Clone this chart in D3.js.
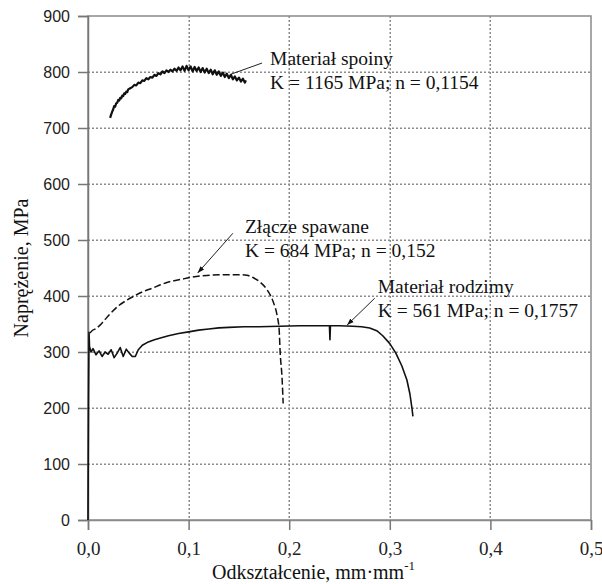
<!DOCTYPE html>
<html>
<head>
<meta charset="utf-8">
<script src="https://cdn.jsdelivr.net/npm/d3@7"></script>
<style>
  body { margin: 0; background: #fff; }
</style>
</head>
<body>
<div id="grafico"></div>
<script>
// dane: [odksztalcenie, naprezenie MPa]
const spoiny = [
  [0.022, 718], [0.023, 724], [0.024, 729], [0.025, 733], [0.026, 739], [0.027, 738],
  [0.028, 744], [0.029, 745], [0.030, 750], [0.031, 749], [0.032, 754], [0.033, 753],
  [0.034, 758], [0.035, 757], [0.036, 762], [0.037, 761], [0.038, 765], [0.039, 764],
  [0.040, 769], [0.042, 771], [0.044, 773], [0.046, 777], [0.048, 776], [0.050, 781],
  [0.052, 780], [0.054, 785], [0.056, 784], [0.058, 789], [0.060, 787], [0.062, 791],
  [0.064, 790], [0.066, 795], [0.068, 793], [0.070, 798], [0.072, 796], [0.074, 801],
  [0.076, 798], [0.078, 803], [0.080, 800], [0.082, 804], [0.084, 801], [0.086, 806],
  [0.088, 802], [0.090, 808], [0.092, 803], [0.094, 810], [0.096, 802], [0.098, 811],
  [0.100, 803], [0.102, 810], [0.104, 801], [0.106, 809], [0.108, 802], [0.110, 808],
  [0.112, 800], [0.114, 807], [0.116, 799], [0.118, 806], [0.120, 798], [0.122, 804],
  [0.124, 796], [0.126, 803], [0.128, 795], [0.130, 801], [0.132, 793], [0.134, 799],
  [0.136, 791], [0.138, 797], [0.140, 789], [0.142, 795], [0.144, 787], [0.146, 792],
  [0.148, 785], [0.150, 790], [0.152, 783], [0.154, 788], [0.156, 781], [0.157, 785]
];

const zlacze = [
  [0.002, 334], [0.004, 338], [0.008, 342], [0.012, 348], [0.016, 356], [0.022, 368],
  [0.030, 382], [0.039, 393], [0.047, 401], [0.055, 408], [0.064, 414], [0.072, 420],
  [0.080, 425], [0.088, 428], [0.096, 431], [0.104, 434], [0.112, 436], [0.121, 437],
  [0.130, 438], [0.140, 438], [0.150, 438], [0.158, 437], [0.164, 433], [0.171, 425],
  [0.178, 411], [0.184, 390], [0.188, 365], [0.190, 340], [0.191, 300], [0.193, 250],
  [0.194, 208]
];

const rodzimy = [
  [0.000, 0], [0.0005, 200], [0.001, 335], [0.0015, 310], [0.003, 300], [0.005, 306],
  [0.008, 295], [0.011, 302], [0.014, 292], [0.017, 300], [0.020, 296], [0.023, 304],
  [0.026, 290], [0.029, 298], [0.032, 308], [0.035, 292], [0.038, 305], [0.041, 298],
  [0.044, 292], [0.047, 292], [0.050, 304], [0.054, 312], [0.060, 318], [0.066, 322],
  [0.072, 325], [0.080, 329], [0.090, 333], [0.100, 336], [0.110, 339], [0.120, 341],
  [0.130, 343], [0.140, 344], [0.155, 345], [0.170, 345], [0.190, 346], [0.210, 347],
  [0.230, 347], [0.240, 347], [0.2405, 322], [0.241, 347], [0.250, 347], [0.263, 346],
  [0.272, 345], [0.280, 343], [0.287, 338], [0.293, 329], [0.300, 315], [0.306, 298],
  [0.312, 275], [0.317, 250], [0.320, 225], [0.322, 200], [0.323, 185]
];

const xTicks = [0, 0.1, 0.2, 0.3, 0.4, 0.5];
const yTicks = [0, 100, 200, 300, 400, 500, 600, 700, 800, 900];

const opisy = [
  { linie: ["Materiał spoiny", "K = 1165 MPa; n = 0,1154"], tekst: [0.181, 812], od: [0.142, 796], do: [0.173, 816], grot: false },
  { linie: ["Złącze spawane", "K = 684 MPa; n = 0,152"], tekst: [0.156, 512], od: [0.109, 441], do: [0.144, 512], grot: true },
  { linie: ["Materiał rodzimy", "K = 561 MPa; n = 0,1757"], tekst: [0.288, 406], od: [0.2575, 348], do: [0.285, 396], grot: true }
];

const margin = { top: 16, left: 88, bottom: 64, right: 11 };
const width = 602 - margin.left - margin.right;
const height = 584 - margin.top - margin.bottom;

const root = d3.select("#grafico")
               .append("svg")
               .attr("width", 602)
               .attr("height", 584);

const defs = root.append("defs");

defs.append("marker")
    .attr("id", "grot")
    .attr("viewBox", "0 0 10 10")
    .attr("refX", 10)
    .attr("refY", 5)
    .attr("markerWidth", 7)
    .attr("markerHeight", 7)
    .attr("orient", "auto-start-reverse")
    .append("path")
    .attr("d", "M0,1.5 L10,5 L0,8.5 Z")
    .attr("fill", "#111");

// kropki siatki jako wzor
defs.append("pattern")
    .attr("id", "kropkiH")
    .attr("patternUnits", "userSpaceOnUse")
    .attr("width", 4)
    .attr("height", 40)
    .append("rect")
    .attr("width", 2)
    .attr("height", 40)
    .attr("fill", "#8c8c8c");

defs.append("pattern")
    .attr("id", "kropkiV")
    .attr("patternUnits", "userSpaceOnUse")
    .attr("width", 40)
    .attr("height", 4)
    .append("rect")
    .attr("width", 40)
    .attr("height", 2)
    .attr("fill", "#8c8c8c");

const svg = root.append("g")
                .attr("transform", `translate(${margin.left}, ${margin.top})`);

const xScale = d3.scaleLinear()
                 .domain([0, 0.5])
                 .range([0, width]);

const yScale = d3.scaleLinear()
                 .domain([0, 900])
                 .range([height, 0]);

svg.append("g")
   .selectAll("rect")
   .data(yTicks.slice(1, -1))
   .join("rect")
   .attr("x", 0)
   .attr("y", d => Math.round(yScale(d)) - 0.5)
   .attr("width", width)
   .attr("height", 1.5)
   .attr("fill", "url(#kropkiH)");

svg.append("g")
   .selectAll("rect")
   .data(xTicks.slice(1, -1))
   .join("rect")
   .attr("x", d => Math.round(xScale(d)) - 0.5)
   .attr("y", 0)
   .attr("width", 1.5)
   .attr("height", height)
   .attr("fill", "url(#kropkiV)");

// ramka
svg.append("rect")
   .attr("width", width)
   .attr("height", height)
   .attr("fill", "none")
   .attr("stroke", "#8a8a8a")
   .attr("stroke-width", 1.5);

const yAxisCall = d3.axisLeft(yScale)
                    .tickValues(yTicks)
                    .tickSize(10)
                    .tickPadding(8)
                    .tickFormat(d3.format("d"));

const yAxis = svg.append("g")
                 .call(yAxisCall);

yAxis.select(".domain").attr("stroke", "#777").attr("stroke-width", 1.5);
yAxis.selectAll(".tick line").attr("stroke", "#777").attr("stroke-width", 1.5);
yAxis.selectAll(".tick text")
     .attr("font-family", "'Liberation Sans', Arial, sans-serif")
     .attr("font-size", "16px")
     .attr("fill", "#222");

const xAxisCall = d3.axisBottom(xScale)
                    .tickValues(xTicks)
                    .tickSize(10)
                    .tickPadding(12)
                    .tickFormat(d => d3.format(".1f")(d).replace(".", ","));

const xAxis = svg.append("g")
                 .attr("transform", `translate(0, ${height})`)
                 .call(xAxisCall);

xAxis.select(".domain").attr("stroke", "#8a8a8a").attr("stroke-width", 1.5);
xAxis.selectAll(".tick line").attr("stroke", "#777").attr("stroke-width", 1.5);
xAxis.selectAll(".tick text")
     .attr("font-family", "'Liberation Serif', 'Times New Roman', serif")
     .attr("font-size", "19px")
     .attr("fill", "#222");

// krzywe
const line = d3.line()
               .x(d => xScale(d[0]))
               .y(d => yScale(d[1]));

svg.append("path")
   .datum(rodzimy)
   .attr("d", line)
   .attr("fill", "none")
   .attr("stroke", "#111")
   .attr("stroke-width", 1.6)
   .attr("stroke-linejoin", "round");

svg.append("path")
   .datum(zlacze)
   .attr("d", line.curve(d3.curveMonotoneX))
   .attr("fill", "none")
   .attr("stroke", "#111")
   .attr("stroke-width", 1.5)
   .attr("stroke-dasharray", "7,3");

line.curve(d3.curveLinear);

svg.append("path")
   .datum(spoiny)
   .attr("d", line)
   .attr("fill", "none")
   .attr("stroke", "#111")
   .attr("stroke-width", 2.2)
   .attr("stroke-linejoin", "round");

// opisy
opisy.forEach(o => {
    svg.append("line")
       .attr("x1", xScale(o.do[0]))
       .attr("y1", yScale(o.do[1]))
       .attr("x2", xScale(o.od[0]))
       .attr("y2", yScale(o.od[1]))
       .attr("stroke", "#222")
       .attr("stroke-width", 1)
       .attr("marker-end", o.grot ? "url(#grot)" : null);

    const t = svg.append("text")
                 .attr("x", xScale(o.tekst[0]))
                 .attr("y", yScale(o.tekst[1]))
                 .attr("font-family", "'Liberation Serif', 'Times New Roman', serif")
                 .attr("font-size", "19.5px")
                 .attr("fill", "#111");

    o.linie.forEach((l, i) => {
        t.append("tspan")
         .attr("x", xScale(o.tekst[0]))
         .attr("dy", i == 0 ? 0 : 24)
         .text(l);
    });
});

// tytuly osi
const xTitle = root.append("text")
                   .attr("x", 212)
                   .attr("y", 579)
                   .attr("font-family", "'Liberation Serif', 'Times New Roman', serif")
                   .attr("font-size", "20px")
                   .attr("fill", "#111");

xTitle.append("tspan").text("Odkształcenie, mm·mm");
xTitle.append("tspan")
      .attr("font-size", "13px")
      .attr("dy", -9)
      .text("-1");

root.append("text")
    .attr("transform", `translate(28, ${margin.top + height / 2}) rotate(-90)`)
    .attr("text-anchor", "middle")
    .attr("font-family", "'Liberation Serif', 'Times New Roman', serif")
    .attr("font-size", "20px")
    .attr("fill", "#111")
    .text("Naprężenie, MPa");
</script>
</body>
</html>
